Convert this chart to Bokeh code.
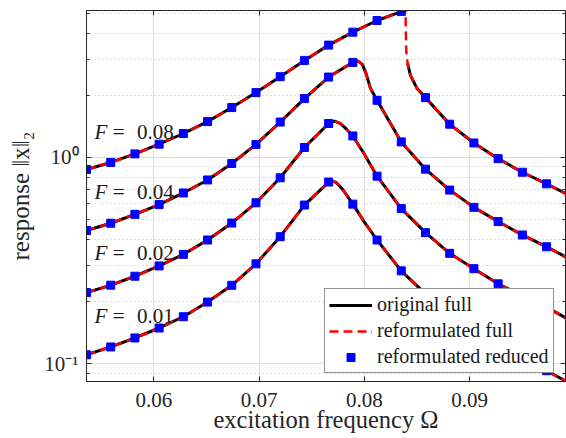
import numpy as np
from bokeh.plotting import figure
from bokeh.models import (FixedTicker, Label, Legend, LegendItem, Range1d,
                          LinearAxis, LogAxis)
from bokeh.embed import file_html
from bokeh.resources import INLINE

# ---------------- data ----------------
forcing_labels = ["0.01", "0.02", "0.04", "0.08"]

# sample points (blue squares) - shared excitation frequencies
omega_sq = [0.0536, 0.0559, 0.0582, 0.0605, 0.0628, 0.0651, 0.0674, 0.0697,
            0.0720, 0.0743, 0.0766, 0.0789, 0.0812, 0.0835, 0.0858, 0.0881,
            0.0904, 0.0927, 0.0950, 0.0973]
sq_F001 = [0.1105, 0.1206, 0.1333, 0.149, 0.169, 0.199, 0.240, 0.305, 0.413,
           0.588, 0.760, 0.594, 0.398, 0.282, 0.218, 0.1765, 0.146, 0.124,
           0.106, 0.0925]
sq_F002 = [0.2213, 0.2403, 0.2656, 0.298, 0.339, 0.398, 0.481, 0.603, 0.797,
           1.118, 1.461, 1.272, 0.812, 0.565, 0.432, 0.343, 0.289, 0.244,
           0.213, 0.188]
sq_F004 = [0.4425, 0.480, 0.530, 0.591, 0.673, 0.778, 0.935, 1.157, 1.485,
           1.930, 2.454, 2.891, 1.893, 1.190, 0.878, 0.695, 0.573, 0.489,
           0.421, 0.369]
sq_F008 = [0.875, 0.946, 1.041, 1.160, 1.307, 1.493, 1.746, 2.063, 2.465,
           2.956, 3.506, 4.052, 4.615, 5.10, 1.951, 1.450, 1.176, 0.987,
           0.848, 0.745]

# full-model curves
om_F001 = [0.0536, 0.0559, 0.0582, 0.0605, 0.0628, 0.0651, 0.0674, 0.0697,
           0.0720, 0.0743, 0.0766, 0.07687, 0.07735, 0.07792, 0.0789, 0.0800,
           0.0812, 0.0835, 0.0858, 0.0881, 0.0904, 0.0927, 0.0950, 0.0973,
           0.0992]
re_F001 = [0.1105, 0.1206, 0.1333, 0.149, 0.169, 0.199, 0.240, 0.305, 0.413,
           0.588, 0.760, 0.772, 0.755, 0.702, 0.594, 0.486, 0.398, 0.282,
           0.218, 0.1765, 0.146, 0.124, 0.106, 0.0925, 0.082]

om_F002 = [0.0536, 0.0559, 0.0582, 0.0605, 0.0628, 0.0651, 0.0674, 0.0697,
           0.0720, 0.0743, 0.0766, 0.07716, 0.07773, 0.0783, 0.0789, 0.07994,
           0.0812, 0.0835, 0.0858, 0.0881, 0.0904, 0.0927, 0.0950, 0.0973,
           0.0992]
re_F002 = [0.2213, 0.2403, 0.2656, 0.298, 0.339, 0.398, 0.481, 0.603, 0.797,
           1.118, 1.461, 1.499, 1.458, 1.371, 1.272, 1.049, 0.812, 0.565,
           0.432, 0.343, 0.289, 0.244, 0.213, 0.188, 0.166]

om_F004 = [0.0536, 0.0559, 0.0582, 0.0605, 0.0628, 0.0651, 0.0674, 0.0697,
           0.0720, 0.0743, 0.0766, 0.0789, 0.07934, 0.07981, 0.08019, 0.08057,
           0.0812, 0.0835, 0.0858, 0.0881, 0.0904, 0.0927, 0.0950, 0.0973,
           0.0992]
re_F004 = [0.4425, 0.480, 0.530, 0.591, 0.673, 0.778, 0.935, 1.157, 1.485,
           1.930, 2.454, 2.891, 2.940, 2.827, 2.521, 2.164, 1.893, 1.190,
           0.878, 0.695, 0.573, 0.489, 0.421, 0.369, 0.328]

# F = 0.08: upper branch leaves the axes, returns along the fold
om_F008 = [0.0536, 0.0559, 0.0582, 0.0605, 0.0628, 0.0651, 0.0674, 0.0697,
           0.0720, 0.0743, 0.0766, 0.0789, 0.0812, 0.0835, 0.0838, 0.08390,
           0.08393, 0.08397, 0.08404, 0.08411, 0.08437, 0.08501, 0.0858,
           0.0881, 0.0904, 0.0927, 0.0950, 0.0973, 0.0992]
re_F008 = [0.875, 0.946, 1.041, 1.160, 1.307, 1.493, 1.746, 2.063, 2.465,
           2.956, 3.506, 4.052, 4.615, 5.10, 5.6, 5.6,
           4.13, 3.30, 3.02, 2.849, 2.501, 2.157, 1.951,
           1.450, 1.176, 0.987, 0.848, 0.745, 0.665]
# original full model for F = 0.08 (no points on the fold)
om_F008_orig = [0.0536, 0.0559, 0.0582, 0.0605, 0.0628, 0.0651, 0.0674,
                0.0697, 0.0720, 0.0743, 0.0766, 0.0789, 0.0812, 0.0835,
                0.0838, float("nan"), 0.08411, 0.08437, 0.08501, 0.0858,
                0.0881, 0.0904, 0.0927, 0.0950, 0.0973, 0.0992]
re_F008_orig = [0.875, 0.946, 1.041, 1.160, 1.307, 1.493, 1.746, 2.063,
                2.465, 2.956, 3.506, 4.052, 4.615, 5.10, 5.6, float("nan"),
                2.849, 2.501, 2.157, 1.951, 1.450, 1.176, 0.987, 0.848,
                0.745, 0.665]

x_ticks = [0.06, 0.07, 0.08, 0.09]
y_ticks = [0.1, 1.0]
y_minor = [0.09, 0.2, 0.3, 0.4, 0.5, 0.6, 0.7, 0.8, 0.9, 2, 3, 4, 5]

# annotation anchor points (left edge / baseline) for "F = ..."
lab_x_F = 0.05437
lab_x_eq = 0.05665
lab_x_val = 0.05840
lab_y = [0.1698, 0.3436, 0.6771, 1.330]

# ---------------- figure ----------------
FONT = "Liberation Serif"
AX = "#262626"

p = figure(width=566, height=438, y_axis_type="log",
           x_range=Range1d(0.0536, 0.0991), y_range=Range1d(0.082, 5.16),
           output_backend="svg", toolbar_location=None,
           min_border_left=86, min_border_right=1, min_border_top=10,
           min_border_bottom=57)
p.background_fill_color = "white"
p.border_fill_color = "white"
p.outline_line_color = AX
p.outline_line_width = 1

# axes
p.xaxis.ticker = FixedTicker(ticks=x_ticks)
p.xaxis.major_label_overrides = {t: f"{t:.2f}" for t in x_ticks}
p.yaxis.ticker = FixedTicker(ticks=y_ticks, minor_ticks=y_minor)
p.yaxis.major_label_overrides = {0.1: "10\u207b\u00b9", 1: "10\u2070"}

for ax in (p.xaxis[0], p.yaxis[0]):
    ax.axis_line_color = AX
    ax.major_tick_line_color = AX
    ax.minor_tick_line_color = AX
    ax.major_tick_in = 5
    ax.major_tick_out = 0
    ax.minor_tick_in = 3
    ax.minor_tick_out = 0
    ax.major_label_text_font = FONT
    ax.major_label_text_font_size = "21px"
    ax.major_label_text_color = AX
    ax.axis_label_text_font = FONT
    ax.axis_label_text_font_style = "normal"
    ax.axis_label_text_color = AX
p.xaxis.axis_label_text_font_size = "24.5px"
p.yaxis.axis_label_text_font_size = "25px"
p.xaxis.minor_tick_line_color = None
p.xaxis.major_label_standoff = 11
p.xaxis.axis_label = "excitation frequency \u03a9"
p.xaxis.axis_label_standoff = -4
p.yaxis.major_label_standoff = 8
p.yaxis.axis_label = "response \u2016x\u2016\u2082"
p.yaxis.axis_label_standoff = 7

# box ticks on top and right (no labels)
top_ax = LinearAxis(ticker=FixedTicker(ticks=x_ticks),
                    major_label_overrides={t: "" for t in x_ticks},
                    major_label_text_font_size="1px", major_label_standoff=0,
                    major_tick_in=5, major_tick_out=0,
                    minor_tick_line_color=None, axis_line_color=AX,
                    major_tick_line_color=AX)
right_ax = LogAxis(ticker=FixedTicker(ticks=y_ticks, minor_ticks=y_minor),
                   major_label_overrides={0.1: "", 1: ""},
                   major_label_text_font_size="1px", major_label_standoff=0,
                   major_tick_in=5, major_tick_out=0, minor_tick_in=3,
                   minor_tick_out=0, axis_line_color=AX,
                   major_tick_line_color=AX, minor_tick_line_color=AX)
p.add_layout(top_ax, "above")
p.add_layout(right_ax, "right")

# grids
p.xgrid.grid_line_color = "#dedede"
p.ygrid.grid_line_color = "#dedede"
p.ygrid.minor_grid_line_color = "#bdbdbd"
p.ygrid.minor_grid_line_dash = "1 3"

# curves
orig = [(om_F001, re_F001), (om_F002, re_F002), (om_F004, re_F004),
        (om_F008_orig, re_F008_orig)]
refo = [(om_F001, re_F001), (om_F002, re_F002), (om_F004, re_F004),
        (om_F008, re_F008)]
sqs = [sq_F001, sq_F002, sq_F004, sq_F008]

black_r = []
for xs, ys in orig:
    black_r.append(p.line(np.array(xs, dtype=float), np.array(ys, dtype=float),
                          line_color="black", line_width=3, line_join="round"))
red_r = []
for xs, ys in refo:
    red_r.append(p.line(np.array(xs, dtype=float), np.array(ys, dtype=float),
                        line_color="#ff0000", line_width=2.5, line_dash="9 5"))
sq_r = []
for ys in sqs:
    sq_r.append(p.scatter(omega_sq, ys, marker="square", size=8,
                          fill_color="#0000ff", line_color="#0000ff"))

# annotations
for lbl, yv in zip(forcing_labels, lab_y):
    p.add_layout(Label(x=lab_x_F, y=yv, text="F", text_font=FONT,
                       text_font_size="21px", text_font_style="italic",
                       text_color="#1a1a1a", text_baseline="alphabetic"))
    p.add_layout(Label(x=lab_x_eq, y=yv, text="=", text_font=FONT,
                       text_font_size="21px", text_color="#1a1a1a",
                       text_baseline="alphabetic", text_align="center"))
    p.add_layout(Label(x=lab_x_val, y=yv, text=lbl, text_font=FONT,
                       text_font_size="21px", text_color="#1a1a1a",
                       text_baseline="alphabetic"))

legend = Legend(items=[LegendItem(label="original full", renderers=[black_r[0]]),
                       LegendItem(label="reformulated full", renderers=[red_r[0]]),
                       LegendItem(label="reformulated reduced", renderers=[sq_r[0]])],
                location=(238, 8), margin=0, padding=4, spacing=3,
                glyph_width=43, glyph_height=20, label_height=20,
                label_standoff=5, label_text_font=FONT,
                label_text_font_size="20px", label_text_color="#1a1a1a",
                border_line_color=AX, border_line_width=1,
                background_fill_color="white", background_fill_alpha=1.0)
p.add_layout(legend)

open("out.html", "w").write(file_html(p, INLINE))
